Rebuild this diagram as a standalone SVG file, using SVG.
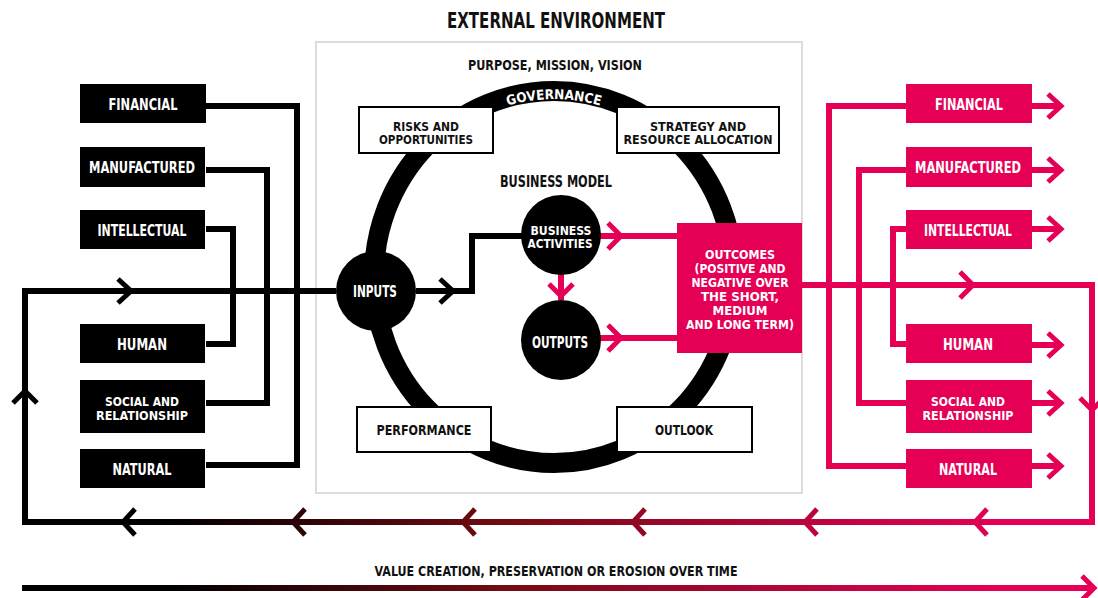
<svg xmlns="http://www.w3.org/2000/svg" width="1098" height="598" viewBox="0 0 1098 598">
<defs>
<linearGradient id="g" gradientUnits="userSpaceOnUse" x1="170" y1="0" x2="1000" y2="0">
<stop offset="0" stop-color="#000"/>
<stop offset="0.4" stop-color="#730b12"/>
<stop offset="1" stop-color="#E50056"/>
</linearGradient>
<path id="arc" d="M382 277 A172 178 0 0 1 726 277"/>
</defs>
<style>
.t{font-family:"Liberation Sans Narrow","DejaVu Sans Condensed","Liberation Sans",sans-serif;font-weight:bold;text-anchor:middle;font-size:15px;}
.m{font-size:13px}
.w{fill:#fff}
.k{fill:#111}
.bk{stroke:#000;stroke-width:6;fill:none;stroke-linejoin:miter}
.pk{stroke:#E50056;stroke-width:6;fill:none;stroke-linejoin:miter}
.gr{stroke:url(#g);stroke-width:6;fill:none}
.chb{stroke:#000;stroke-width:5;fill:none}
.chp{stroke:#E50056;stroke-width:5;fill:none}
.chg{stroke:url(#g);stroke-width:5;fill:none}
.bb{fill:#000}
.pb{fill:#E50056}
.wb{fill:#fff;stroke:#000;stroke-width:2}
</style>
<rect width="1098" height="598" fill="#fff"/>

<text class="t k" x="556" y="28" textLength="218" lengthAdjust="spacingAndGlyphs" style="font-size:21px">EXTERNAL ENVIRONMENT</text>
<rect id="frame" x="316" y="42" width="486" height="451" fill="none" stroke="#dcdcdc" stroke-width="2"/>
<text class="t k" x="555" y="70" textLength="174" lengthAdjust="spacingAndGlyphs" style="font-size:14px">PURPOSE, MISSION, VISION</text>

<g id="governance">
<ellipse cx="554" cy="277" rx="180" ry="186" fill="none" stroke="#000" stroke-width="20"/>
<text class="t w" style="font-size:13.5px"><textPath href="#arc" startOffset="50%">GOVERNANCE</textPath></text>
</g>
<text class="t k" x="556" y="187" textLength="112" lengthAdjust="spacingAndGlyphs" style="font-size:15px">BUSINESS MODEL</text>

<g id="connectors">
<path class="bk" d="M206 106 H297 V465 H206"/>
<path class="bk" d="M206 170 H267 V403 H206"/>
<path class="bk" d="M206 229 H233 V344 H206"/>
<path class="bk" d="M336 291 H25 V522"/>
<path class="chb" d="M118 279 L131 291 L118 303"/>
<path class="chb" d="M13 403 L25 391 L37 403"/>
<path class="bk" d="M416 291 H472 V236 H522"/>
<path class="chb" d="M440 279 L453 291 L440 303"/>
<path class="pk" d="M600 236 H677"/>
<path class="chp" d="M608 223 L621 236 L608 249"/>
<path class="pk" d="M600 338 H677"/>
<path class="chp" d="M608 325 L621 338 L608 351"/>
<path class="pk" d="M561 274 V300"/>
<path class="chp" d="M549 284 L561 296 L573 284"/>
<path class="pk" d="M802 285 H1092 V522"/>
<path class="chp" d="M960 272 L973 285 L960 298"/>
<path class="chp" d="M1080 398 L1092 410 L1104 398"/>
<path class="gr" d="M22 522 H1095"/>
<path class="chg" d="M135 509 L123 522 L135 535"/>
<path class="chg" d="M305 509 L293 522 L305 535"/>
<path class="chg" d="M475 509 L463 522 L475 535"/>
<path class="chg" d="M645 509 L633 522 L645 535"/>
<path class="chg" d="M817 509 L805 522 L817 535"/>
<path class="chg" d="M987 509 L975 522 L987 535"/>
<path class="pk" d="M906 106 H829 V466 H906"/>
<path class="pk" d="M906 170 H859 V403 H906"/>
<path class="pk" d="M906 229 H893 V344 H906"/>
<path class="pk" d="M1032 106 H1060"/>
<path class="chp" d="M1048 94 L1061 106 L1048 118"/>
<path class="pk" d="M1032 170 H1060"/>
<path class="chp" d="M1048 158 L1061 170 L1048 182"/>
<path class="pk" d="M1032 229 H1060"/>
<path class="chp" d="M1048 217 L1061 229 L1048 241"/>
<path class="pk" d="M1032 345 H1060"/>
<path class="chp" d="M1048 333 L1061 345 L1048 357"/>
<path class="pk" d="M1032 403 H1060"/>
<path class="chp" d="M1048 391 L1061 403 L1048 415"/>
<path class="pk" d="M1032 466 H1060"/>
<path class="chp" d="M1048 454 L1061 466 L1048 478"/>
<path class="gr" d="M22 588 H1093"/>
<path class="chg" d="M1082 576 L1094 588 L1082 600"/>
</g>

<g id="risks"><rect class="wb" x="359" y="107" width="134" height="46"/>
<text class="t k m" x="426" y="131" textLength="66" lengthAdjust="spacingAndGlyphs">RISKS AND</text>
<text class="t k m" x="426" y="144" textLength="94" lengthAdjust="spacingAndGlyphs">OPPORTUNITIES</text></g>
<g id="strategy"><rect class="wb" x="617" y="107" width="162" height="46"/>
<text class="t k m" x="698" y="131" textLength="96" lengthAdjust="spacingAndGlyphs">STRATEGY AND</text>
<text class="t k m" x="698" y="144" textLength="149" lengthAdjust="spacingAndGlyphs">RESOURCE ALLOCATION</text></g>
<g id="performance"><rect class="wb" x="357" y="407" width="134" height="45"/>
<text class="t k" x="424" y="435" textLength="95" lengthAdjust="spacingAndGlyphs" style="font-size:14px">PERFORMANCE</text></g>
<g id="outlook"><rect class="wb" x="617" y="407" width="135" height="45"/>
<text class="t k" x="684" y="435" textLength="58" lengthAdjust="spacingAndGlyphs" style="font-size:14px">OUTLOOK</text></g>

<g id="inputs"><circle class="bb" cx="376" cy="291" r="40"/>
<text class="t w" x="375" y="297" textLength="44" lengthAdjust="spacingAndGlyphs">INPUTS</text></g>
<g id="activities"><circle class="bb" cx="561" cy="235" r="40"/>
<text class="t w m" x="561" y="235" textLength="61" lengthAdjust="spacingAndGlyphs">BUSINESS</text>
<text class="t w m" x="560" y="248" textLength="65" lengthAdjust="spacingAndGlyphs">ACTIVITIES</text></g>
<g id="outputs"><circle class="bb" cx="561" cy="340" r="40"/>
<text class="t w" x="560" y="348" textLength="56" lengthAdjust="spacingAndGlyphs">OUTPUTS</text></g>
<g id="outcomes"><rect class="pb" x="677" y="223" width="125" height="130"/>
<text class="t w m" x="740" y="259" textLength="70" lengthAdjust="spacingAndGlyphs">OUTCOMES</text>
<text class="t w m" x="740" y="273" textLength="91" lengthAdjust="spacingAndGlyphs">(POSITIVE AND</text>
<text class="t w m" x="740" y="287" textLength="97" lengthAdjust="spacingAndGlyphs">NEGATIVE OVER</text>
<text class="t w m" x="740" y="301" textLength="78" lengthAdjust="spacingAndGlyphs">THE SHORT,</text>
<text class="t w m" x="740" y="315" textLength="55" lengthAdjust="spacingAndGlyphs">MEDIUM</text>
<text class="t w m" x="740" y="329" textLength="108" lengthAdjust="spacingAndGlyphs">AND LONG TERM)</text></g>

<g id="in-financial"><rect class="bb" x="80" y="84" width="126" height="39"/><text class="t w" x="143" y="110" textLength="69" lengthAdjust="spacingAndGlyphs">FINANCIAL</text></g>
<g id="in-manufactured"><rect class="bb" x="80" y="147" width="125" height="40"/><text class="t w" x="142" y="173" textLength="106" lengthAdjust="spacingAndGlyphs">MANUFACTURED</text></g>
<g id="in-intellectual"><rect class="bb" x="80" y="210" width="125" height="39"/><text class="t w" x="142" y="236" textLength="89" lengthAdjust="spacingAndGlyphs">INTELLECTUAL</text></g>
<g id="in-human"><rect class="bb" x="80" y="324" width="125" height="39"/><text class="t w" x="142" y="350" textLength="50" lengthAdjust="spacingAndGlyphs">HUMAN</text></g>
<g id="in-social"><rect class="bb" x="80" y="380" width="125" height="53"/><text class="t w m" x="142" y="406" textLength="74" lengthAdjust="spacingAndGlyphs">SOCIAL AND</text><text class="t w m" x="142" y="420" textLength="92" lengthAdjust="spacingAndGlyphs">RELATIONSHIP</text></g>
<g id="in-natural"><rect class="bb" x="80" y="449" width="125" height="39"/><text class="t w" x="142" y="475" textLength="59" lengthAdjust="spacingAndGlyphs">NATURAL</text></g>

<g id="out-financial"><rect class="pb" x="906" y="84" width="126" height="39"/><text class="t w" x="969" y="110" textLength="68" lengthAdjust="spacingAndGlyphs">FINANCIAL</text></g>
<g id="out-manufactured"><rect class="pb" x="906" y="147" width="126" height="40"/><text class="t w" x="968" y="173" textLength="106" lengthAdjust="spacingAndGlyphs">MANUFACTURED</text></g>
<g id="out-intellectual"><rect class="pb" x="906" y="210" width="126" height="39"/><text class="t w" x="968" y="236" textLength="88" lengthAdjust="spacingAndGlyphs">INTELLECTUAL</text></g>
<g id="out-human"><rect class="pb" x="906" y="324" width="126" height="39"/><text class="t w" x="968" y="350" textLength="50" lengthAdjust="spacingAndGlyphs">HUMAN</text></g>
<g id="out-social"><rect class="pb" x="906" y="380" width="126" height="53"/><text class="t w m" x="968" y="406" textLength="74" lengthAdjust="spacingAndGlyphs">SOCIAL AND</text><text class="t w m" x="968" y="420" textLength="91" lengthAdjust="spacingAndGlyphs">RELATIONSHIP</text></g>
<g id="out-natural"><rect class="pb" x="906" y="449" width="126" height="39"/><text class="t w" x="968" y="475" textLength="58" lengthAdjust="spacingAndGlyphs">NATURAL</text></g>

<text class="t k" x="556" y="576" textLength="363" lengthAdjust="spacingAndGlyphs" style="font-size:14px">VALUE CREATION, PRESERVATION OR EROSION OVER TIME</text>
</svg>
